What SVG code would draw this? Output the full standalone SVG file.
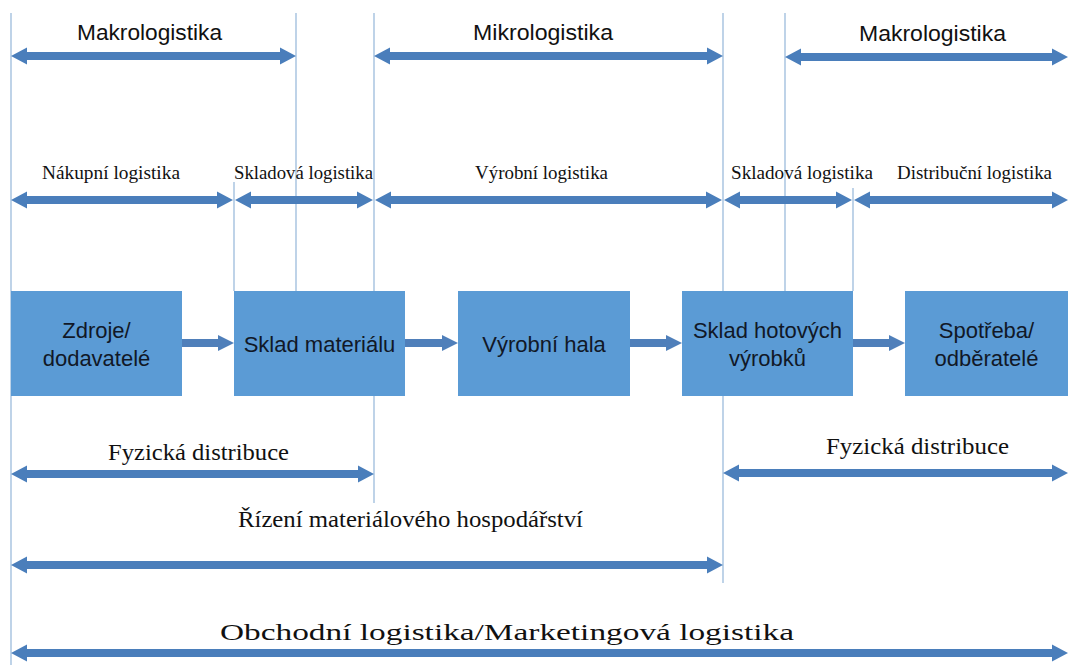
<svg xmlns="http://www.w3.org/2000/svg" width="1068" height="665" viewBox="0 0 1068 665">
<style>
.bg{fill:#ffffff}
.vl{stroke:#9cbcdc;stroke-width:1.3;fill:none}
.da{fill:#4a7ebb}
.ca{fill:#4f7fba}
.box{fill:#5b9bd5}
.bt{font-family:"Liberation Sans",Arial,sans-serif;font-size:22px;fill:#111827;text-anchor:middle}
.st{font-family:"Liberation Sans",Arial,sans-serif;font-size:22px;fill:#111111}
.sr{font-family:"Liberation Serif","Times New Roman",serif;font-size:19px;fill:#111111}
.sl{font-family:"Liberation Serif","Times New Roman",serif;font-size:24px;fill:#111111}
</style>
<rect class="bg" x="0" y="0" width="1068" height="665"/>
<g id="guides">
<line class="vl" x1="11" y1="13" x2="11" y2="665"/>
<line class="vl" x1="296" y1="13" x2="296" y2="291"/>
<line class="vl" x1="234" y1="182" x2="234" y2="291"/>
<line class="vl" x1="374" y1="13" x2="374" y2="503"/>
<line class="vl" x1="723" y1="13" x2="723" y2="583"/>
<line class="vl" x1="785" y1="13" x2="785" y2="291"/>
<line class="vl" x1="853" y1="188" x2="853" y2="291"/>
</g>
<g id="scopes">
<path class="da" d="M11,56 L27,47.5 L27,52 L280,52 L280,47.5 L296,56 L280,64.5 L280,60 L27,60 L27,64.5 Z"/>
<path class="da" d="M374,56 L390,47.5 L390,52 L707,52 L707,47.5 L723,56 L707,64.5 L707,60 L390,60 L390,64.5 Z"/>
<path class="da" d="M785,57 L801,48.5 L801,53 L1052,53 L1052,48.5 L1068,57 L1052,65.5 L1052,61 L801,61 L801,65.5 Z"/>
<path class="da" d="M11,200 L27,191.5 L27,196 L217,196 L217,191.5 L233,200 L217,208.5 L217,204 L27,204 L27,208.5 Z"/>
<path class="da" d="M235,200 L251,191.5 L251,196 L357,196 L357,191.5 L373,200 L357,208.5 L357,204 L251,204 L251,208.5 Z"/>
<path class="da" d="M375,200 L391,191.5 L391,196 L706,196 L706,191.5 L722,200 L706,208.5 L706,204 L391,204 L391,208.5 Z"/>
<path class="da" d="M724,200 L740,191.5 L740,196 L836,196 L836,191.5 L852,200 L836,208.5 L836,204 L740,204 L740,208.5 Z"/>
<path class="da" d="M854,200 L870,191.5 L870,196 L1052,196 L1052,191.5 L1068,200 L1052,208.5 L1052,204 L870,204 L870,208.5 Z"/>
<path class="da" d="M11,474 L27,465.5 L27,470 L358,470 L358,465.5 L374,474 L358,482.5 L358,478 L27,478 L27,482.5 Z"/>
<path class="da" d="M723,473 L739,464.5 L739,469 L1052,469 L1052,464.5 L1068,473 L1052,481.5 L1052,477 L739,477 L739,481.5 Z"/>
<path class="da" d="M11,565 L27,556.5 L27,561 L707,561 L707,556.5 L723,565 L707,573.5 L707,569 L27,569 L27,573.5 Z"/>
<path class="da" d="M11,653 L27,644.5 L27,649 L1052,649 L1052,644.5 L1068,653 L1052,661.5 L1052,657 L27,657 L27,661.5 Z"/>
<text class="st" x="77" y="40" textLength="145" lengthAdjust="spacingAndGlyphs">Makrologistika</text>
<text class="st" x="473" y="40" textLength="140" lengthAdjust="spacingAndGlyphs">Mikrologistika</text>
<text class="st" x="859" y="41" textLength="147" lengthAdjust="spacingAndGlyphs">Makrologistika</text>
<text class="sr" x="42" y="179" textLength="138" lengthAdjust="spacingAndGlyphs">Nákupní logistika</text>
<text class="sr" x="234" y="179" textLength="139" lengthAdjust="spacingAndGlyphs">Skladová logistika</text>
<text class="sr" x="475" y="179" textLength="133" lengthAdjust="spacingAndGlyphs">Výrobní logistika</text>
<text class="sr" x="731" y="179" textLength="142" lengthAdjust="spacingAndGlyphs">Skladová logistika</text>
<text class="sr" x="897" y="179" textLength="155" lengthAdjust="spacingAndGlyphs">Distribuční logistika</text>
<text class="sl" x="108" y="460" textLength="181" lengthAdjust="spacingAndGlyphs">Fyzická distribuce</text>
<text class="sl" x="826" y="454" textLength="183" lengthAdjust="spacingAndGlyphs">Fyzická distribuce</text>
<text class="sl" x="238" y="527" textLength="345" lengthAdjust="spacingAndGlyphs">Řízení materiálového hospodářství</text>
<text class="sl" x="220" y="640" textLength="574" lengthAdjust="spacingAndGlyphs">Obchodní logistika/Marketingová logistika</text>
</g>
<g id="connectors">
<path class="ca" d="M182,339 L218,339 L218,335 L234,343 L218,351 L218,347 L182,347 Z"/>
<path class="ca" d="M405,339 L442,339 L442,335 L458,343 L442,351 L442,347 L405,347 Z"/>
<path class="ca" d="M630,339 L666,339 L666,335 L682,343 L666,351 L666,347 L630,347 Z"/>
<path class="ca" d="M853,339 L889,339 L889,335 L905,343 L889,351 L889,347 L853,347 Z"/>
</g>
<g id="zdroje">
<rect class="box" x="11" y="291" width="171" height="105"/>
<text class="bt" x="96.5" y="338">Zdroje/</text>
<text class="bt" x="96.5" y="366">dodavatelé</text>
</g>
<g id="sklad-materialu">
<rect class="box" x="234" y="291" width="171" height="105"/>
<text class="bt" x="319.5" y="352">Sklad materiálu</text>
</g>
<g id="vyrobni-hala">
<rect class="box" x="458" y="291" width="172" height="105"/>
<text class="bt" x="544" y="352">Výrobní hala</text>
</g>
<g id="sklad-hotovych">
<rect class="box" x="682" y="291" width="171" height="105"/>
<text class="bt" x="767.5" y="338">Sklad hotových</text>
<text class="bt" x="767.5" y="366">výrobků</text>
</g>
<g id="spotreba">
<rect class="box" x="905" y="291" width="163" height="105"/>
<text class="bt" x="986.5" y="338">Spotřeba/</text>
<text class="bt" x="986.5" y="366">odběratelé</text>
</g>
</svg>
